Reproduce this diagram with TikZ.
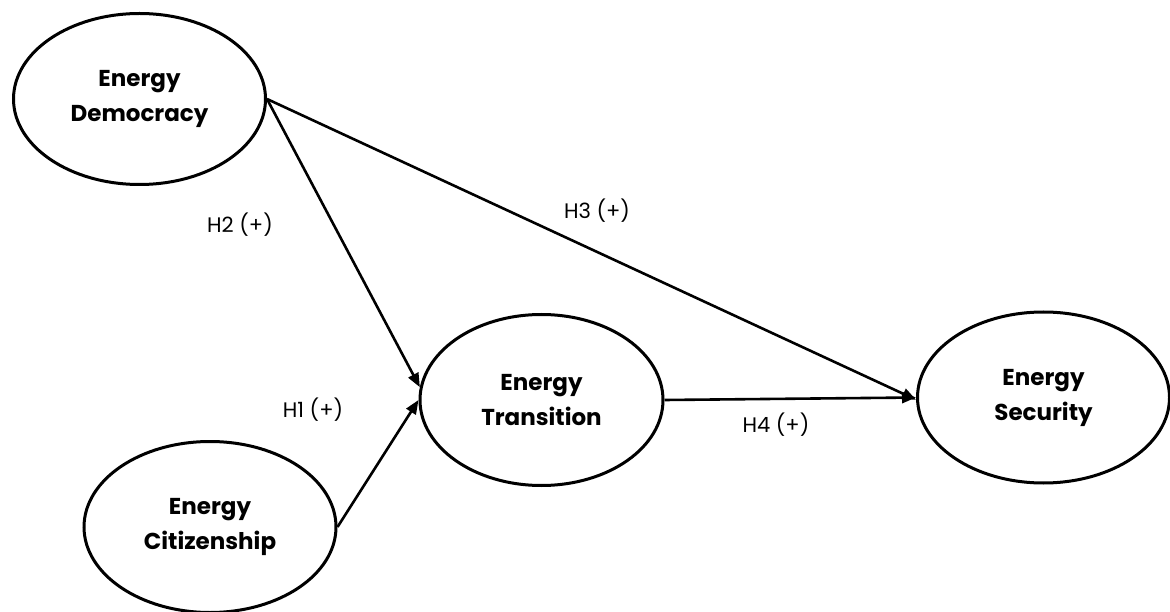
\documentclass[tikz,border=0pt]{standalone}
\usepackage{fontspec}
\setmainfont{Poppins}
\usetikzlibrary{shapes.geometric,arrows.meta}
\begin{document}
\begin{tikzpicture}[x=1pt,y=-1pt,
    construct/.style={ellipse,draw,line width=3pt,inner sep=0pt,
      minimum width=252pt,minimum height=171pt,align=center,
      font=\fontsize{23}{35}\selectfont\bfseries},
    path/.style={line width=2.6pt,-{Triangle[length=14pt,width=11pt]}},
    hyp/.style={font=\fontsize{21}{24}\selectfont}]
    \useasboundingbox (0,0) rectangle (1170,612);
    \node[construct] (dem) at (139.5,99) {Energy\\Democracy};
    \node[construct] (cit) at (210,527) {Energy\\Citizenship};
    \node[construct,minimum width=243pt] (tra) at (541.5,400) {Energy\\Transition};
    \node[construct] (sec) at (1043.5,397.5) {Energy\\Security};
    \draw[path] (dem.east) -- (tra.174);
    \draw[path] (cit.east) -- (tra.west);
    \draw[path] (dem.east) -- (sec.181);
    \draw[path] (tra.east) -- (sec.west);
    \node[hyp] (h2) at (240,225) {H2 (+)};
    \node[hyp] (h1) at (313,410) {H1 (+)};
    \node[hyp] (h3) at (597,211) {H3 (+)};
    \node[hyp] (h4) at (776,425) {H4 (+)};
\end{tikzpicture}
\end{document}
